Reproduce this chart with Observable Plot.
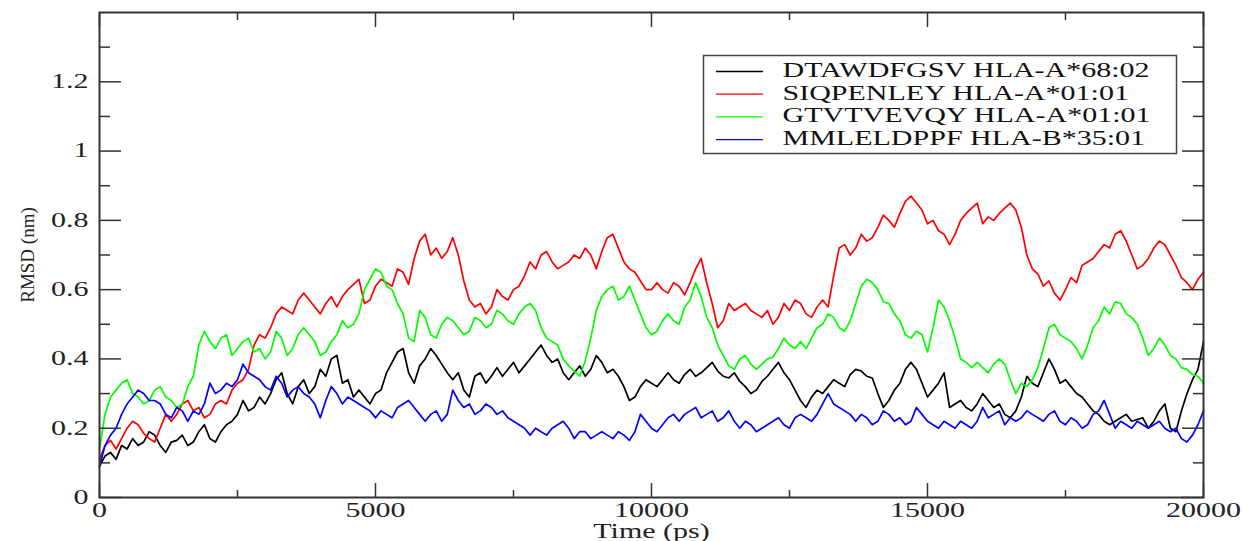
<!DOCTYPE html>
<html>
<head>
<meta charset="utf-8">
<script src="https://cdn.jsdelivr.net/npm/d3@7"></script>
<script src="https://cdn.jsdelivr.net/npm/@observablehq/plot@0.6"></script>
<style>
  body { margin: 0; background: #fff; }
  #chart svg { display: block; }
</style>
</head>
<body>
<div id="chart"></div>
<script>
// ---- data ----
const seriesNames = [
  "DTAWDFGSV HLA-A*68:02",
  "SIQPENLEY HLA-A*01:01",
  "GTVTVEVQY HLA-A*01:01",
  "MMLELDPPF HLA-B*35:01"
];
const seriesColors = ["#000000", "#ff0000", "#00ff00", "#0000ff"];

// samples at 0, 200, 400 ... 20000 ps
const timeEven = d3.range(0, 20001, 200);
// samples at 100, 300 ... 19900 ps
const timeOdd = d3.range(100, 20000, 200);

const blackRmsd = [
  0.09,0.13,0.15,0.17,0.16,0.18,0.13,0.165,0.15,0.19,
  0.17,0.19,0.22,0.28,0.26,0.27,0.34,0.30,0.32,0.30,
  0.37,0.40,0.33,0.29,0.29,0.30,0.36,0.42,0.36,0.38,
  0.43,0.385,0.34,0.31,0.35,0.33,0.375,0.37,0.36,0.40,
  0.44,0.39,0.36,0.36,0.35,0.41,0.36,0.35,0.28,0.32,
  0.33,0.34,0.34,0.355,0.35,0.375,0.365,0.345,0.335,0.30,
  0.335,0.37,0.36,0.31,0.26,0.31,0.32,0.33,0.355,0.365,
  0.345,0.26,0.31,0.37,0.37,0.29,0.33,0.26,0.28,0.25,
  0.30,0.26,0.24,0.25,0.35,0.32,0.40,0.33,0.32,0.29,
  0.25,0.22,0.22,0.24,0.225,0.20,0.25,0.20,0.25,0.34,
  0.45
];
const blackRmsdOdd = [
  0.12,0.11,0.14,0.15,0.19,0.15,0.16,0.18,0.16,0.21,
  0.16,0.21,0.24,0.25,0.29,0.30,0.36,0.27,0.34,0.32,
  0.35,0.41,0.34,0.31,0.27,0.31,0.39,0.43,0.33,0.40,
  0.41,0.36,0.36,0.29,0.36,0.35,0.35,0.39,0.38,0.42,
  0.41,0.40,0.34,0.38,0.37,0.39,0.37,0.32,0.29,0.34,
  0.32,0.36,0.33,0.37,0.36,0.39,0.35,0.36,0.32,0.31,
  0.35,0.39,0.34,0.28,0.29,0.30,0.34,0.32,0.37,0.35,
  0.30,0.28,0.33,0.39,0.33,0.31,0.36,0.27,0.26,0.27,
  0.28,0.27,0.23,0.29,0.33,0.36,0.37,0.34,0.30,0.27,
  0.24,0.21,0.23,0.22,0.23,0.22,0.27,0.19,0.30,0.37
];
const redRmsd = [
  0.11,0.165,0.17,0.22,0.185,0.16,0.24,0.24,0.28,0.26,
  0.24,0.28,0.31,0.34,0.44,0.46,0.53,0.54,0.57,0.57,
  0.53,0.58,0.58,0.615,0.56,0.61,0.62,0.66,0.615,0.74,
  0.70,0.69,0.75,0.625,0.55,0.53,0.60,0.57,0.61,0.68,
  0.70,0.68,0.67,0.70,0.72,0.66,0.75,0.72,0.66,0.625,
  0.60,0.60,0.62,0.585,0.66,0.62,0.49,0.56,0.55,0.54,
  0.52,0.50,0.56,0.57,0.53,0.55,0.55,0.72,0.70,0.76,
  0.75,0.815,0.78,0.855,0.85,0.79,0.77,0.73,0.80,0.835,
  0.79,0.80,0.835,0.83,0.70,0.645,0.625,0.57,0.635,0.67,
  0.69,0.73,0.76,0.74,0.66,0.69,0.74,0.70,0.635,0.60,
  0.65
];
const redRmsdOdd = [
  0.15,0.14,0.20,0.21,0.17,0.20,0.22,0.27,0.25,0.23,
  0.27,0.27,0.33,0.37,0.47,0.49,0.55,0.53,0.59,0.55,
  0.56,0.55,0.60,0.63,0.57,0.63,0.61,0.65,0.69,0.76,
  0.72,0.71,0.70,0.57,0.56,0.55,0.58,0.60,0.64,0.66,
  0.71,0.66,0.68,0.69,0.70,0.71,0.76,0.68,0.65,0.60,
  0.62,0.59,0.61,0.62,0.69,0.56,0.51,0.54,0.56,0.53,
  0.54,0.52,0.54,0.56,0.52,0.57,0.64,0.73,0.72,0.74,
  0.78,0.80,0.82,0.87,0.83,0.80,0.76,0.76,0.82,0.85,
  0.81,0.82,0.85,0.78,0.66,0.61,0.59,0.60,0.62,0.68,
  0.71,0.72,0.77,0.70,0.67,0.72,0.73,0.67,0.62,0.63
];
const greenRmsd = [
  0.14,0.29,0.33,0.30,0.27,0.31,0.29,0.26,0.32,0.44,
  0.45,0.46,0.41,0.45,0.42,0.40,0.48,0.41,0.47,0.47,
  0.41,0.45,0.51,0.50,0.60,0.66,0.61,0.56,0.46,0.54,
  0.47,0.50,0.51,0.47,0.52,0.49,0.54,0.51,0.53,0.56,
  0.49,0.45,0.40,0.365,0.395,0.54,0.60,0.57,0.61,0.53,
  0.47,0.51,0.51,0.55,0.62,0.52,0.44,0.38,0.40,0.385,
  0.385,0.405,0.46,0.43,0.43,0.49,0.53,0.49,0.51,0.61,
  0.62,0.565,0.53,0.47,0.48,0.42,0.57,0.51,0.40,0.375,
  0.375,0.385,0.385,0.30,0.32,0.375,0.49,0.47,0.45,0.40,
  0.49,0.55,0.565,0.53,0.50,0.41,0.46,0.41,0.375,0.355,
  0.33
];
const greenRmsdOdd = [
  0.24,0.31,0.34,0.29,0.28,0.32,0.28,0.27,0.35,0.48,
  0.43,0.47,0.43,0.46,0.43,0.42,0.46,0.43,0.49,0.45,
  0.42,0.47,0.49,0.53,0.63,0.65,0.60,0.53,0.45,0.52,
  0.46,0.52,0.49,0.48,0.51,0.50,0.53,0.50,0.55,0.54,
  0.46,0.44,0.38,0.35,0.46,0.58,0.61,0.58,0.57,0.49,
  0.48,0.53,0.50,0.57,0.58,0.49,0.41,0.37,0.41,0.37,
  0.40,0.43,0.44,0.45,0.46,0.50,0.52,0.48,0.56,0.63,
  0.60,0.56,0.51,0.46,0.47,0.49,0.55,0.46,0.39,0.39,
  0.36,0.40,0.34,0.33,0.34,0.43,0.50,0.46,0.43,0.44,
  0.51,0.53,0.56,0.52,0.46,0.43,0.44,0.40,0.37,0.35
];
const blueRmsd = [
  0.09,0.18,0.24,0.29,0.30,0.28,0.24,0.26,0.22,0.24,
  0.33,0.31,0.32,0.385,0.35,0.32,0.35,0.29,0.32,0.29,
  0.23,0.32,0.27,0.28,0.26,0.23,0.24,0.26,0.28,0.24,
  0.24,0.22,0.31,0.26,0.24,0.27,0.24,0.23,0.21,0.18,
  0.19,0.20,0.22,0.17,0.19,0.18,0.18,0.19,0.165,0.24,
  0.20,0.21,0.24,0.24,0.26,0.24,0.22,0.25,0.20,0.21,
  0.20,0.22,0.21,0.23,0.23,0.24,0.30,0.26,0.24,0.24,
  0.21,0.25,0.22,0.21,0.26,0.22,0.20,0.21,0.22,0.20,
  0.26,0.24,0.21,0.22,0.25,0.23,0.24,0.22,0.23,0.20,
  0.24,0.28,0.20,0.21,0.22,0.20,0.22,0.19,0.17,0.18,
  0.25
];
const blueRmsdOdd = [
  0.15,0.20,0.27,0.31,0.28,0.27,0.23,0.25,0.25,0.27,
  0.30,0.33,0.34,0.36,0.34,0.31,0.33,0.31,0.30,0.27,
  0.28,0.30,0.29,0.27,0.25,0.25,0.23,0.27,0.26,0.22,
  0.25,0.24,0.28,0.27,0.25,0.26,0.25,0.22,0.20,0.20,
  0.18,0.21,0.20,0.19,0.17,0.19,0.17,0.18,0.19,0.22,
  0.19,0.23,0.22,0.25,0.23,0.25,0.23,0.22,0.22,0.19,
  0.21,0.23,0.20,0.24,0.22,0.27,0.27,0.25,0.22,0.23,
  0.22,0.24,0.23,0.22,0.24,0.21,0.22,0.20,0.21,0.22,
  0.23,0.25,0.23,0.23,0.24,0.22,0.25,0.21,0.22,0.21,
  0.25,0.24,0.22,0.20,0.21,0.21,0.20,0.20,0.16,0.21
];

const xMajorTicks = [0, 5000, 10000, 15000, 20000];
const xMinorTicks = [2500, 7500, 12500, 17500];
const yMajorTicks = [0, 0.2, 0.4, 0.6, 0.8, 1.0, 1.2];
const yMinorTicks = [0.1, 0.3, 0.5, 0.7, 0.9, 1.1, 1.3];
const xLabel = "Time (ps)";
const yLabel = "RMSD (nm)";

// ---- table for the library ----
const evenSeries = [blackRmsd, redRmsd, greenRmsd, blueRmsd];
const oddSeries = [blackRmsdOdd, redRmsdOdd, greenRmsdOdd, blueRmsdOdd];
const rows = [];
seriesNames.forEach((name, i) => {
  const pts = [];
  evenSeries[i].forEach((v, j) => pts.push({series: name, t: timeEven[j], rmsd: v}));
  oddSeries[i].forEach((v, j) => pts.push({series: name, t: timeOdd[j], rmsd: v}));
  pts.sort((a, b) => a.t - b.t);
  rows.push(...pts);
});

const axisColor = "#333";
const lineShape = {draw(ctx, l) { ctx.moveTo(0, 0); ctx.lineTo(0, -l); }};

const legendMarks = seriesNames.flatMap((name, i) => [
  Plot.vector([name], {frameAnchor: "top-left", dx: 617, dy: 59 + 22.7 * i, length: 46, rotate: 90,
    anchor: "start", shape: lineShape, stroke: seriesColors[i], strokeWidth: 1.3}),
  Plot.text([name], {frameAnchor: "top-left", dx: 683, dy: 58 + 22.7 * i, text: d => d,
    textAnchor: "start", lineAnchor: "middle", fontSize: 20, fill: "#111"})
]);

const chart = Plot.plot({
  width: 1242,
  height: 541,
  marginLeft: 99,
  marginRight: 39,
  marginTop: 12,
  marginBottom: 44,
  style: {fontFamily: "'Liberation Serif', 'Times New Roman', serif", fontSize: "20px", color: "#222", background: "#fff"},
  x: {domain: [0, 20000]},
  y: {domain: [0, 1.4]},
  color: {domain: seriesNames, range: seriesColors},
  marks: [
    Plot.line(rows, {x: "t", y: "rmsd", z: "series", stroke: "series", strokeWidth: 1.7}),
    // inward tick marks on all four sides
    Plot.axisX(xMajorTicks, {anchor: "bottom", tickSize: -14, fill: "none", stroke: axisColor, strokeWidth: 1.5, label: null}),
    Plot.axisX(xMinorTicks, {anchor: "bottom", tickSize: -7, fill: "none", stroke: axisColor, strokeWidth: 1.5, label: null}),
    Plot.axisX(xMajorTicks, {anchor: "top", tickSize: -14, fill: "none", stroke: axisColor, strokeWidth: 1.5, label: null}),
    Plot.axisX(xMinorTicks, {anchor: "top", tickSize: -7, fill: "none", stroke: axisColor, strokeWidth: 1.5, label: null}),
    Plot.axisY(yMajorTicks, {anchor: "left", tickSize: -22, fill: "none", stroke: axisColor, strokeWidth: 1.5, label: null}),
    Plot.axisY(yMinorTicks, {anchor: "left", tickSize: -11, fill: "none", stroke: axisColor, strokeWidth: 1.5, label: null}),
    Plot.axisY(yMajorTicks, {anchor: "right", tickSize: -22, fill: "none", stroke: axisColor, strokeWidth: 1.5, label: null}),
    Plot.axisY(yMinorTicks, {anchor: "right", tickSize: -11, fill: "none", stroke: axisColor, strokeWidth: 1.5, label: null}),
    // tick labels
    Plot.axisX(xMajorTicks, {anchor: "bottom", tickSize: 0, tickPadding: 5, tickFormat: d => String(d), label: null, fill: "#222"}),
    Plot.axisY(yMajorTicks, {anchor: "left", tickSize: 0, tickPadding: 11, tickFormat: d => String(+d.toFixed(1)), label: null, fill: "#222"}),
    // axis titles
    Plot.text([xLabel], {frameAnchor: "bottom", dy: 34, lineAnchor: "middle", textAnchor: "middle", text: d => d, fontSize: 20, fill: "#222"}),
    Plot.text([yLabel], {frameAnchor: "left", dx: -72, rotate: -90, lineAnchor: "middle", textAnchor: "middle", text: d => d, fontSize: 19, fill: "#222"}),
    Plot.frame({stroke: axisColor, strokeWidth: 2}),
    // legend box
    Plot.frame({insetLeft: 604, insetRight: 27, insetTop: 43, insetBottom: 344, stroke: "#444", strokeWidth: 1.5}),
    ...legendMarks
  ]
});

document.getElementById("chart").append(chart);

// horizontal stretch of horizontal text, as in the reference picture
const stretch = 1.5;
chart.querySelectorAll("text").forEach(t => {
  const tr = t.getAttribute("transform") || "";
  const parentTr = (t.parentNode && t.parentNode.getAttribute && t.parentNode.getAttribute("transform")) || "";
  if (tr.includes("rotate") || parentTr.includes("rotate")) return;
  if (t.querySelector("tspan")) return;
  const len = t.getComputedTextLength();
  if (len > 0) {
    t.setAttribute("textLength", (len * stretch).toFixed(1));
    t.setAttribute("lengthAdjust", "spacingAndGlyphs");
  }
});
</script>
</body>
</html>
